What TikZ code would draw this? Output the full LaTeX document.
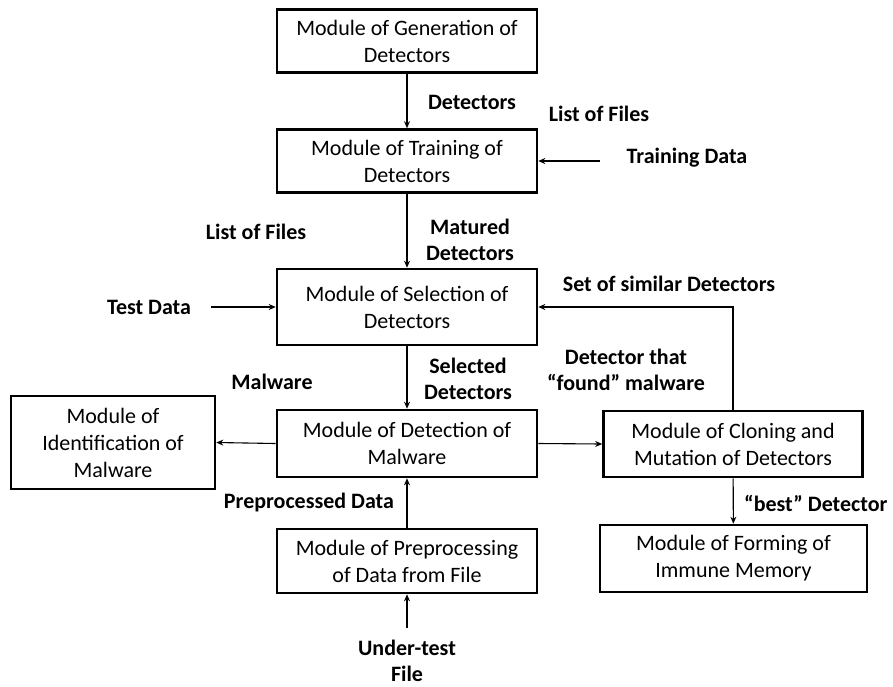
\documentclass[tikz,border=0pt]{standalone}
\usepackage{fontspec}
\setmainfont{Carlito}
\usetikzlibrary{arrows.meta}
\begin{document}
\begin{tikzpicture}[x=1pt,y=-1pt,
  box/.style={draw, line width=2.6pt, align=center, inner sep=1pt, font=\fontsize{22}{27}\selectfont},
  lbl/.style={align=center, inner sep=1pt, font=\bfseries\fontsize{22}{25.5}\selectfont},
  arr/.style={-{Stealth[length=7pt,width=6pt]}, line width=1.1pt}]
\useasboundingbox (0,0) rectangle (893,686);
\node[box, minimum width=260pt, minimum height=63pt] (gen) at (407,41) {Module of Generation of\\Detectors};
\node[box, minimum width=260pt, minimum height=63pt] (train) at (407,161) {Module of Training of\\Detectors};
\node[box, minimum width=260pt, minimum height=76pt] (sel) at (407,307) {Module of Selection of\\Detectors};
\node[box, minimum width=260pt, minimum height=67pt] (det) at (407,443.5) {Module of Detection of\\Malware};
\node[box, minimum width=204pt, minimum height=93pt] (ident) at (113,442.5) {Module of\\Identification of\\Malware};
\node[box, minimum width=259pt, minimum height=66pt] (clon) at (733,444) {Module of Cloning and\\Mutation of Detectors};
\node[box, minimum width=267pt, minimum height=67pt] (form) at (733.5,558.5) {Module of Forming of\\Immune Memory};
\node[box, minimum width=260pt, minimum height=64pt] (prep) at (407,561) {Module of Preprocessing\\of Data from File};

\coordinate (td) at (600,161);
\coordinate (tsd) at (211,307);
\coordinate (ut) at (407,628);

\draw[arr] (gen) -- (train);
\draw[arr] (td) -- (train.east);
\draw[arr] (train) -- (sel);
\draw[arr] (tsd) -- (sel.west);
\draw[arr] (sel) -- (det);
\draw[arr] (det.west) -- (ident.east);
\draw[arr] (det.east) -- (clon.west);
\draw[arr] (clon.north) |- (sel.east);
\draw[arr] (clon) -- (form);
\draw[arr] (prep) -- (det);
\draw[arr] (ut) -- (prep.south);

\node[lbl] (l1) at (472,102) {Detectors};
\node[lbl] (l2) at (599,114) {List of Files};
\node[lbl] (l3) at (687,158) {Training Data};
\node[lbl] (l4) at (470,240) {Matured\\Detectors};
\node[lbl] (l5) at (256,232) {List of Files};
\node[lbl] (l6) at (149,307) {Test Data};
\node[lbl] (l7) at (669,284) {Set of similar Detectors};
\node[lbl] (l8) at (468,379) {Selected\\Detectors};
\node[lbl] (l9) at (626,370) {Detector that\\“found” malware};
\node[lbl] (l10) at (272,382) {Malware};
\node[lbl] (l11) at (309,502) {Preprocessed Data};
\node[lbl, anchor=west] (l12) at (743,503) {“best” Detector};
\node[lbl] (l13) at (407,661) {Under-test\\File};
\end{tikzpicture}
\end{document}
